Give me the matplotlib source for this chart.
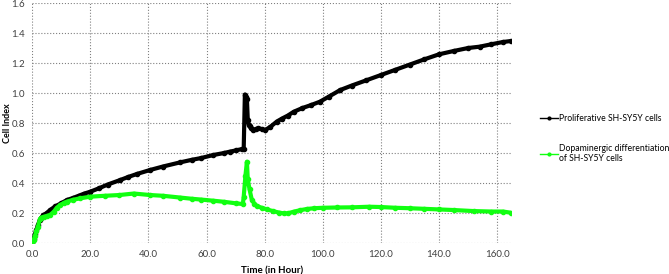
import matplotlib
matplotlib.use("Agg")
import matplotlib.pyplot as plt
from matplotlib.ticker import MultipleLocator, FormatStrFormatter

plt.rcParams['font.family'] = ['Lato', 'DejaVu Sans']

# Proliferative SH-SY5Y cells (time in hours, cell index)
t_prolif = [0, 0.5, 1, 1.5, 2, 2.7, 3.2, 3.9, 5, 6.2, 8, 10, 12, 14, 16, 18, 20, 23, 26,
            30.3, 33, 36, 40.6, 45, 51, 55, 58, 62.4, 66, 68, 70, 72.3, 72.8, 73.2, 73.5,
            73.9, 74.2, 74.5, 74.8, 75.4, 76, 77, 77.8, 79, 80.2, 82, 84.2, 86, 88, 90,
            93, 96, 99, 102, 106, 110, 115, 120, 125, 130, 135, 140, 145, 150, 154, 158,
            162, 164.8]
ci_prolif = [0.00, 0.03, 0.06, 0.09, 0.12, 0.155, 0.17, 0.187, 0.20, 0.22, 0.245, 0.265,
             0.287, 0.30, 0.315, 0.33, 0.342, 0.365, 0.39, 0.42, 0.44, 0.46, 0.487, 0.51,
             0.538, 0.555, 0.566, 0.587, 0.60, 0.609, 0.617, 0.627, 0.63, 0.99, 0.975,
             0.96, 0.82, 0.79, 0.78, 0.765, 0.755, 0.76, 0.765, 0.76, 0.753, 0.775, 0.81,
             0.83, 0.85, 0.875, 0.90, 0.92, 0.942, 0.975, 1.02, 1.05, 1.085, 1.12, 1.155,
             1.19, 1.225, 1.258, 1.28, 1.30, 1.309, 1.325, 1.34, 1.347]

# Dopaminergic differentiation of SH-SY5Y cells
t_dopa = [0, 0.5, 1, 1.5, 2, 2.7, 3.2, 4, 5, 6.2, 7.5, 8.5, 9.6, 11, 12, 14, 16.5, 20, 25,
          30, 35, 40.6, 45, 51, 55, 58, 62.4, 66, 70, 72.5, 72.8, 73.4, 73.9, 74.2, 74.8,
          75.6, 76.5, 77.3, 79, 80.8, 83, 85, 86.5, 88, 90, 92, 94.5, 97, 100, 105, 110,
          116, 120, 125, 130, 135, 140, 145, 152, 158, 162, 164.8]
ci_dopa = [0.00, 0.02, 0.05, 0.08, 0.11, 0.16, 0.17, 0.175, 0.18, 0.187, 0.21, 0.235,
           0.253, 0.268, 0.276, 0.288, 0.298, 0.309, 0.315, 0.32, 0.33, 0.32, 0.315,
           0.303, 0.295, 0.29, 0.282, 0.275, 0.265, 0.26, 0.309, 0.45, 0.542, 0.424,
           0.358, 0.287, 0.262, 0.247, 0.235, 0.224, 0.212, 0.203, 0.198, 0.198, 0.209,
           0.218, 0.227, 0.232, 0.235, 0.237, 0.238, 0.242, 0.24, 0.235, 0.232, 0.228,
           0.224, 0.22, 0.213, 0.21, 0.21, 0.202]

label_prolif = 'Proliferative SH-SY5Y cells'
label_dopa = 'Dopaminergic differentiation\nof SH-SY5Y cells'

fig = plt.figure(figsize=(6.69, 2.74), dpi=100)
ax = fig.add_axes([0.048, 0.113, 0.716, 0.876])

ln1, = ax.plot(t_prolif, ci_prolif, color='black', lw=3, marker='o', ms=3,
               label=label_prolif)
ln2, = ax.plot(t_dopa, ci_dopa, color='#11ff11', lw=3, marker='o', ms=3,
               label=label_dopa)

ax.set_xlim(0, 164.8)
ax.set_ylim(0, 1.6)
ax.xaxis.set_major_locator(MultipleLocator(20))
ax.yaxis.set_major_locator(MultipleLocator(0.2))
ax.xaxis.set_major_formatter(FormatStrFormatter('%.1f'))
ax.yaxis.set_major_formatter(FormatStrFormatter('%.1f'))
ax.grid(True, color='#808080', linestyle=':', linewidth=0.8)
ax.set_axisbelow(True)
for s in ax.spines.values():
    s.set_visible(False)
ax.tick_params(length=0, labelsize=7, colors='#404040', pad=5)

ax.set_xlabel('Time (in Hour)', fontsize=7, fontweight='bold', labelpad=5)
ax.set_ylabel('Cell Index', fontsize=6.5, fontweight='bold')
ax.yaxis.set_label_coords(-0.042, 0.5)

leg1 = fig.legend(handles=[ln1], loc='center left', bbox_to_anchor=(0.795, 0.569),
                  frameon=False, fontsize=6.2, handlelength=2.1, handletextpad=0.2)
leg1.legend_handles[0].set_linewidth(1)
leg1.legend_handles[0].set_markersize(2)
leg2 = fig.legend(handles=[ln2], loc='center left', bbox_to_anchor=(0.795, 0.44),
                  frameon=False, fontsize=6.2, handlelength=2.1, handletextpad=0.2)
leg2.legend_handles[0].set_linewidth(1)
leg2.legend_handles[0].set_markersize(2)

fig.savefig('out.png', dpi=100)
